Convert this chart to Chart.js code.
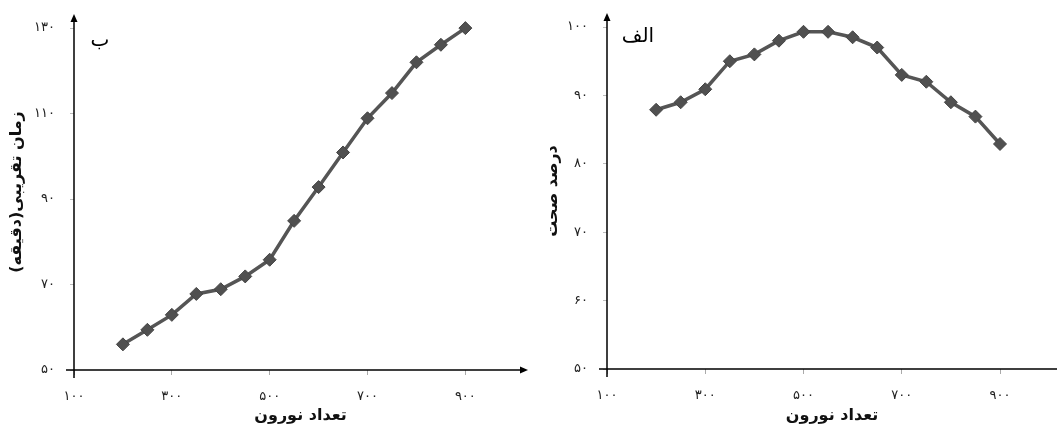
<!DOCTYPE html>
<html lang="fa">
<head>
<meta charset="utf-8">
<script src="https://cdn.jsdelivr.net/npm/chart.js@4/dist/chart.umd.min.js"></script>
<style>
    body { margin: 0; background: #fff; }
    .panel { position: absolute; top: 0; height: 428px; }
</style>
</head>
<body>
<div class="panel" style="left:0;width:530px"><canvas id="chart-b" width="530" height="428"></canvas></div>
<div class="panel" style="left:530px;width:527px"><canvas id="chart-alef" width="527" height="428"></canvas></div>
<script>
// Data
const neurons = [200, 250, 300, 350, 400, 450, 500, 550, 600, 650, 700, 750, 800, 850, 900];
const trainTime = [56, 59.4, 62.9, 67.8, 68.9, 71.9, 75.8, 84.9, 92.8, 100.9, 108.9, 114.8, 122, 126.1, 130];
const accuracy = [87.9, 89, 90.9, 95, 96, 98, 99.3, 99.3, 98.5, 97, 93, 92, 89, 86.9, 82.9];
const xTicks = [100, 300, 500, 700, 900];
const timeTicks = [50, 70, 90, 110, 130];
const accTicks = [50, 60, 70, 80, 90, 100];

const xTitle = 'تعداد نورون';
const timeTitle = 'زمان تقریبی(دقیقه)';
const accTitle = 'درصد صحت';

const faDigits = '۰۱۲۳۴۵۶۷۸۹';
function toFa(n) {
    return String(n).replace(/\d/g, d => faDigits[d]);
}
const rlm = s => '\u200F' + s + '\u200F';

// draws the two axis lines with arrow heads and the panel letter
function axesPlugin(letter, letterX, letterY, xArrow) {
    return {
        id: 'axes',
        afterDraw(chart) {
            const { ctx, chartArea: a } = chart;
            ctx.save();
            ctx.strokeStyle = '#000';
            ctx.fillStyle = '#000';
            ctx.lineWidth = 1.5;
            ctx.beginPath();
            ctx.moveTo(a.left - 8, a.bottom);
            ctx.lineTo(xArrow ? a.right - 2 : a.right, a.bottom);
            ctx.moveTo(a.left, a.bottom + 8);
            ctx.lineTo(a.left, a.top + 3);
            ctx.stroke();
            // y arrow
            ctx.beginPath();
            ctx.moveTo(a.left, a.top);
            ctx.lineTo(a.left - 3.5, a.top + 8);
            ctx.lineTo(a.left + 3.5, a.top + 8);
            ctx.closePath();
            ctx.fill();
            if (xArrow) {
                ctx.beginPath();
                ctx.moveTo(a.right + 1, a.bottom);
                ctx.lineTo(a.right - 7, a.bottom - 3.5);
                ctx.lineTo(a.right - 7, a.bottom + 3.5);
                ctx.closePath();
                ctx.fill();
            }
            ctx.font = '20px "DejaVu Sans"';
            ctx.textAlign = 'center';
            ctx.textBaseline = 'middle';
            ctx.fillText(letter, letterX, letterY);
            ctx.restore();
        }
    };
}

function makeChart(id, yValues, yMin, yMax, yTickList, xMax, yTitle, cfg) {
    const points = neurons.map((x, i) => ({ x: x, y: yValues[i] }));
    return new Chart(document.getElementById(id), {
        type: 'line',
        data: {
            datasets: [{
                data: points,
                borderColor: '#555555',
                borderWidth: 3.5,
                pointStyle: 'rectRot',
                pointRadius: 6.5,
                pointBackgroundColor: '#505050',
                pointBorderColor: '#444444',
                pointBorderWidth: 1,
                tension: 0
            }]
        },
        options: {
            responsive: false,
            animation: false,
            layout: { autoPadding: false, padding: { top: cfg.top, right: cfg.right, left: 0, bottom: 0 } },
            plugins: { legend: { display: false }, tooltip: { enabled: false } },
            scales: {
                x: {
                    type: 'linear',
                    min: 100,
                    max: xMax,
                    afterBuildTicks: s => { s.ticks = xTicks.map(v => ({ value: v })); },
                    afterFit: s => { s.height = cfg.xHeight; s.paddingLeft = 0; s.paddingRight = 0; },
                    border: { display: false },
                    grid: { display: true, drawOnChartArea: false, drawTicks: true, tickLength: 5, color: '#aaaaaa' },
                    ticks: {
                        padding: 14,
                        color: '#222',
                        font: { family: 'DejaVu Sans', size: 13 },
                        maxRotation: 0,
                        callback: v => toFa(v)
                    },
                    title: {
                        display: true,
                        text: rlm(xTitle),
                        color: '#111',
                        font: { family: 'DejaVu Sans', size: 16, weight: 'bold' },
                        padding: { top: 0, bottom: 3 }
                    }
                },
                y: {
                    min: yMin,
                    max: yMax,
                    afterBuildTicks: s => { s.ticks = yTickList.map(v => ({ value: v })); },
                    afterFit: s => { s.width = cfg.yWidth; s.paddingTop = 0; s.paddingBottom = 0; },
                    border: { display: false },
                    grid: { display: true, drawOnChartArea: false, drawTicks: true, tickLength: 4, color: '#bbbbbb' },
                    ticks: {
                        padding: 15,
                        color: '#222',
                        font: { family: 'DejaVu Sans', size: 13 },
                        callback: v => toFa(v)
                    },
                    title: {
                        display: true,
                        text: rlm(yTitle),
                        color: '#111',
                        font: { family: 'DejaVu Sans', size: 16, weight: 'bold' },
                        padding: { top: cfg.yTitlePad, bottom: 0 }
                    }
                }
            }
        },
        plugins: [axesPlugin(cfg.letter, cfg.letterX, cfg.letterY, cfg.xArrow)]
    });
}

makeChart('chart-b', trainTime, 50, 133.3, timeTicks, 1026, timeTitle, {
    top: 14, right: 3, xHeight: 58, yWidth: 74, yTitlePad: 7,
    letter: 'ب', letterX: 100, letterY: 41, xArrow: true
});

makeChart('chart-alef', accuracy, 50, 102.05, accTicks, 1016, accTitle, {
    top: 13, right: 0, xHeight: 59, yWidth: 77, yTitlePad: 13,
    letter: 'الف', letterX: 108, letterY: 37, xArrow: false
});
</script>
</body>
</html>
